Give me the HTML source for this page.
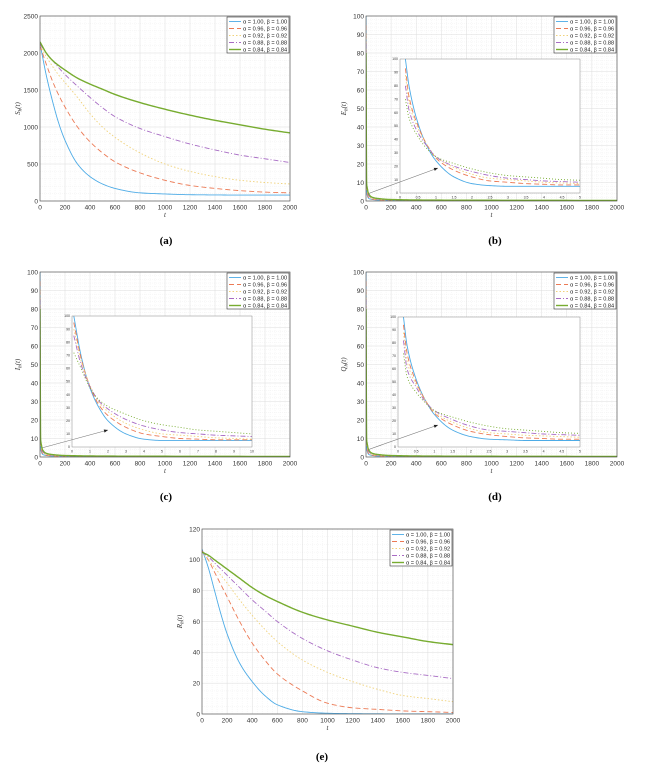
<!DOCTYPE html>
<html><head><meta charset="utf-8">
<style>
html,body{margin:0;padding:0;background:#fff;}
svg{display:block;font-family:"Liberation Sans",sans-serif;}
</style></head>
<body>
<svg id="fig" width="664" height="765" viewBox="0 0 664 765" xmlns="http://www.w3.org/2000/svg"></svg>
<script>
// ---------- data ----------
const seriesLabels = ["α = 1.00, β = 1.00","α = 0.96, β = 0.96","α = 0.92, β = 0.92","α = 0.88, β = 0.88","α = 0.84, β = 0.84"];
const tLong = [0,50,100,150,200,300,400,500,600,800,1000,1200,1400,1600,1800,2000];
const sA1 = [2130,1700,1350,1050,820,500,330,230,170,110,95,85,82,80,80,80];
const sA2 = [2100,1850,1620,1430,1270,1000,800,650,530,380,280,210,170,140,120,110];
const sA3 = [2100,1950,1820,1700,1600,1400,1180,1000,860,650,500,400,330,280,250,230];
const sA4 = [2120,2000,1900,1800,1710,1550,1400,1260,1140,980,870,770,690,620,570,520];
const sA5 = [2150,2000,1900,1830,1770,1660,1580,1510,1440,1330,1240,1160,1090,1030,970,920];
const rE1 = [107,95,80,65,52,33,21,12,6,1.5,0.5,0.2,0.1,0,0,0];
const rE2 = [106,100,92,84,76,60,46,35,26,15,7,4,3,2,1.5,1];
const rE3 = [105,100,95,90,85,74,64,55,47,35,27,21,16,12,10,8];
const rE4 = [105,102,98,94,90,82,74,67,60,49,41,35,30,27,25,23];
const rE5 = [105,103,100,97,94,88,82,77,73,66,61,57,53,50,47,45];
const tShort = [0,5,10,20,50,100,200,500,1000,2000];
const eMain1 = [100,5,3,1.5,0.8,0.5,0.3,0.2,0.1,0.1];
const eMain2 = [95,6,4,2,1,0.6,0.4,0.3,0.2,0.1];
const eMain3 = [90,7,5,2.5,1.3,0.8,0.5,0.3,0.2,0.1];
const eMain4 = [85,8,6,3,1.6,1,0.6,0.4,0.3,0.2];
const eMain5 = [80,9.5,7,4,2,1.3,0.8,0.5,0.4,0.3];
const tInset5 = [0.15,0.25,0.5,0.75,1,1.5,2,2.5,3,3.5,4,4.5,5];
const eIn1 = [100,80,52,35,24,12,7,5.5,5,5,5,5,5];
const eIn2 = [93,72,50,36,26,17,12,9,8,7,6.5,6,6];
const eIn3 = [88,68,48,36,27,19,14,11,10,9,8,7.5,7];
const eIn4 = [80,62,45,35,27,20,16,13,11,10,9,8.5,8];
const eIn5 = [70,56,42,33,27,22,18,15,13,12,11,10,9.5];
const tInset10 = [0.1,0.5,1,1.5,2,3,4,5,6,7,8,9,10];
const iIn1 = [100,70,45,30,20,10,6,5,5,5,5,5,5];
const iIn2 = [95,68,46,32,24,15,10,8,6.5,6,5.5,5.5,5.5];
const iIn3 = [90,66,47,34,27,18,13,10,9,8,7,6.5,6];
const iIn4 = [85,63,46,35,29,21,16,13,11,10,9,8.5,8];
const iIn5 = [72,60,45,36,31,25,20,17,15,13,12,11,10];
const qIn1 = [100,78,52,36,25,13,8,6,5.5,5,5,5,5];
const qIn2 = [94,72,50,36,26,17,12,9.5,8,7,6.5,6,6];
const qIn3 = [88,66,48,36,27,19,14,11,10,9,8.5,8,7.5];
const qIn4 = [82,60,46,35,28,21,16,13,12,11,10,9.5,9];
const qIn5 = [72,54,42,34,28,23,19,16,14,13,12,11,10.5];
const xTicksLong = [0,200,400,600,800,1000,1200,1400,1600,1800,2000];
const yTicksS = [0,500,1000,1500,2000,2500];
const yTicks100 = [0,10,20,30,40,50,60,70,80,90,100];
const yTicksR = [0,20,40,60,80,100,120];
const xTicksIn5 = [0,0.5,1,1.5,2,2.5,3,3.5,4,4.5,5];
const xTicksIn10 = [0,1,2,3,4,5,6,7,8,9,10];
const yTicksIn = [0,10,20,30,40,50,60,70,80,90,100];

// ---------- styles ----------
const colors = ["#4dabe6","#ec7a55","#f0d27a","#a86cc4","#77ac30"];
const dashes = ["","5,3","1.5,2","5,2,1,2",""];
const widths = [0.9,0.9,0.9,0.9,1.4];
const NS="http://www.w3.org/2000/svg";
const fig=document.getElementById('fig');
function mk(tag,attrs,parent){const e=document.createElementNS(NS,tag);for(const k in attrs)e.setAttribute(k,attrs[k]);(parent||fig).appendChild(e);return e;}
function monoPath(xsA,ysA,sx,sy){
  const n=xsA.length,d=[],m=new Array(n);
  for(let i=0;i<n-1;i++)d.push((ysA[i+1]-ysA[i])/(xsA[i+1]-xsA[i]));
  m[0]=d[0];m[n-1]=d[n-2];
  for(let i=1;i<n-1;i++){ if(d[i-1]*d[i]<=0)m[i]=0; else {const h0=xsA[i]-xsA[i-1],h1=xsA[i+1]-xsA[i];const w1=2*h1+h0,w2=h1+2*h0;m[i]=(w1+w2)/(w1/d[i-1]+w2/d[i]);} }
  let s="M"+sx(xsA[0]).toFixed(2)+","+sy(ysA[0]).toFixed(2);
  for(let i=0;i<n-1;i++){
    const h=xsA[i+1]-xsA[i];
    for(let k=1;k<=12;k++){
      const t=k/12,t2=t*t,t3=t2*t;
      const v=(2*t3-3*t2+1)*ysA[i]+(t3-2*t2+t)*h*m[i]+(-2*t3+3*t2)*ysA[i+1]+(t3-t2)*h*m[i+1];
      s+=" L"+sx(xsA[i]+t*h).toFixed(2)+","+sy(v).toFixed(2);
    }
  }
  return s;
}
function axes(g,box,xmax,ymax,xt,yt,fs,minorX,minorY,name,grid){
  const xs=v=>box.x0+(v/xmax)*(box.x1-box.x0);
  const ys=v=>box.y1-(v/ymax)*(box.y1-box.y0);
  mk('rect',{x:box.x0,y:box.y0,width:box.x1-box.x0,height:box.y1-box.y0,fill:'#fff'},g);
  if(grid){
  for(let i=0;i<xt.length-1;i++){const st=(xt[i+1]-xt[i])/minorX;for(let k=1;k<minorX;k++){const X=xs(xt[i]+k*st);mk('line',{x1:X,x2:X,y1:box.y0,y2:box.y1,stroke:'#ececec','stroke-width':0.4,'stroke-dasharray':'1,1'},g);}}
  for(let i=0;i<yt.length-1;i++){const st=(yt[i+1]-yt[i])/minorY;for(let k=1;k<minorY;k++){const Y=ys(yt[i]+k*st);mk('line',{x1:box.x0,x2:box.x1,y1:Y,y2:Y,stroke:'#ececec','stroke-width':0.4,'stroke-dasharray':'1,1'},g);}}
  }
  xt.forEach(v=>{const X=xs(v);if(grid)mk('line',{x1:X,x2:X,y1:box.y0,y2:box.y1,stroke:'#dcdcdc','stroke-width':0.5},g);
    const t=mk('text',{x:X,y:box.y1+fs+2,'font-size':fs,'text-anchor':'middle',fill:'#333'},g);t.textContent=v;
    });
  yt.forEach(v=>{const Y=ys(v);if(grid)mk('line',{x1:box.x0,x2:box.x1,y1:Y,y2:Y,stroke:'#dcdcdc','stroke-width':0.5},g);
    const t=mk('text',{x:box.x0-2,y:Y+fs*0.35,'font-size':fs,'text-anchor':'end',fill:'#333'},g);t.textContent=v;
    });
  return {xs,ys};
}
function drawSeries(g,sc,tArr,list,box,name,thin){
  const clip='clip-'+name;
  const cp=mk('clipPath',{id:clip},g);mk('rect',{x:box.x0,y:box.y0-1,width:box.x1-box.x0,height:box.y1-box.y0+1},cp);
  list.forEach((vals,i)=>{
    const w=thin&&i===4?0.9:widths[i];
    const da=thin&&i===4?'1,2':dashes[i];
    const p=mk('path',{d:monoPath(tArr,vals,sc.xs,sc.ys),fill:'none',stroke:colors[i],'stroke-width':w,'stroke-dasharray':da,'clip-path':'url(#'+clip+')'},g);
    
    
  });
}
function legend(g,box,name){
  const w=62,h=36,x=box.x1-w-1,y=box.y0+1;
  const lg=mk('g',{},g);
  
  
  mk('rect',{x:x,y:y,width:w,height:h,fill:'#fff',stroke:'#333','stroke-width':0.6},lg);
  seriesLabels.forEach((s,i)=>{
    const yy=y+4.5+i*7;
    mk('line',{x1:x+2,x2:x+14,y1:yy,y2:yy,stroke:colors[i],'stroke-width':widths[i],'stroke-dasharray':dashes[i]},lg);
    const t=mk('text',{x:x+16,y:yy+2,'font-size':5.6,fill:'#222'},lg);t.textContent=s;
    
    
  });
}
function panel(cfg){
  const g=mk('g',{});
  
  
  const sc=axes(g,cfg.box,cfg.xmax,cfg.ymax,cfg.xt,cfg.yt,6.5,5,cfg.minorY,cfg.name,true);
  drawSeries(g,sc,cfg.t,cfg.series,cfg.box,cfg.name,false);
  mk('rect',{x:cfg.box.x0,y:cfg.box.y0,width:cfg.box.x1-cfg.box.x0,height:cfg.box.y1-cfg.box.y0,fill:'none',stroke:'#444','stroke-width':0.6},g);
  const xl=mk('text',{x:(cfg.box.x0+cfg.box.x1)/2,y:cfg.box.y1+16,'font-size':7,'font-style':'italic','text-anchor':'middle',fill:'#333','font-family':'Liberation Serif,serif'},g);xl.textContent='t';
  
  const cy=(cfg.box.y0+cfg.box.y1)/2, cx=cfg.box.x0-20;
  const yl=mk('text',{x:cx,y:cy,'font-size':7,'font-style':'italic','text-anchor':'middle',fill:'#333','font-family':'Liberation Serif,serif',transform:'rotate(-90 '+cx+' '+cy+')'},g);
  yl.innerHTML=cfg.ylab+'<tspan font-size="5" dy="1.5">h</tspan><tspan dy="-1.5">(t)</tspan>';
  
  if(cfg.inset){
    const ib=cfg.inset.box;
    const a0=[sc.xs(cfg.inset.from[0]),sc.ys(cfg.inset.from[1])];
    const ig=mk('g',{},g);
    
    
    const isc=axes(ig,ib,cfg.inset.xmax,100,cfg.inset.xt,yTicksIn,3.5,5,2,cfg.name+'-inset',false);
    drawSeries(ig,isc,cfg.inset.t,cfg.inset.series,ib,cfg.name+'-inset',true);
    mk('rect',{x:ib.x0,y:ib.y0,width:ib.x1-ib.x0,height:ib.y1-ib.y0,fill:'none',stroke:'#888','stroke-width':0.5},ig);
    const a1=cfg.inset.to;
    const ar=mk('line',{x1:a0[0],y1:a0[1],x2:a1[0],y2:a1[1],stroke:'#777','stroke-width':0.6},g);
    
    const ang=Math.atan2(a1[1]-a0[1],a1[0]-a0[0]);
    const hx=a1[0],hy=a1[1],L=4,W=1.6;
    mk('polygon',{points:`${hx},${hy} ${hx-L*Math.cos(ang)+W*Math.sin(ang)},${hy-L*Math.sin(ang)-W*Math.cos(ang)} ${hx-L*Math.cos(ang)-W*Math.sin(ang)},${hy-L*Math.sin(ang)+W*Math.cos(ang)}`,fill:'#222'},g);
  }
  legend(g,cfg.box,cfg.name);
  const cap=mk('text',{x:cfg.cap[0],y:cfg.cap[1],'font-size':11,'font-weight':'bold','text-anchor':'middle','font-family':'Liberation Serif,serif',fill:'#000'},g);
  cap.textContent=cfg.capText;
  
}
panel({name:'panel-a',box:{x0:40,x1:290,y0:16,y1:201},xmax:2000,ymax:2500,xt:xTicksLong,yt:yTicksS,minorY:5,t:tLong,series:[sA1,sA2,sA3,sA4,sA5],ylab:'S',cap:[166,244],capText:'(a)'});
panel({name:'panel-b',box:{x0:366,x1:617,y0:16,y1:201},xmax:2000,ymax:100,xt:xTicksLong,yt:yTicks100,minorY:5,t:tShort,series:[eMain1,eMain2,eMain3,eMain4,eMain5],ylab:'E',cap:[495,244],capText:'(b)',
  inset:{box:{x0:400,x1:580,y0:59,y1:193},xmax:5,xt:xTicksIn5,t:tInset5,series:[eIn1,eIn2,eIn3,eIn4,eIn5],from:[18,4],to:[438,168]}});
panel({name:'panel-c',box:{x0:40,x1:290,y0:272,y1:457},xmax:2000,ymax:100,xt:xTicksLong,yt:yTicks100,minorY:5,t:tShort,series:[eMain1,eMain2,eMain3,eMain4,eMain5],ylab:'I',cap:[166,500],capText:'(c)',
  inset:{box:{x0:72,x1:252,y0:316,y1:447},xmax:10,xt:xTicksIn10,t:tInset10,series:[iIn1,iIn2,iIn3,iIn4,iIn5],from:[20,5],to:[108,430]}});
panel({name:'panel-d',box:{x0:366,x1:617,y0:272,y1:457},xmax:2000,ymax:100,xt:xTicksLong,yt:yTicks100,minorY:5,t:tShort,series:[eMain1,eMain2,eMain3,eMain4,eMain5],ylab:'Q',cap:[495,500],capText:'(d)',
  inset:{box:{x0:398,x1:580,y0:317,y1:447},xmax:5,xt:xTicksIn5,t:tInset5,series:[qIn1,qIn2,qIn3,qIn4,qIn5],from:[18,4],to:[438,425]}});
panel({name:'panel-e',box:{x0:202,x1:453,y0:529,y1:714},xmax:2000,ymax:120,xt:xTicksLong,yt:yTicksR,minorY:4,t:tLong,series:[rE1,rE2,rE3,rE4,rE5],ylab:'R',cap:[322,760],capText:'(e)'});
</script>
</body></html>
